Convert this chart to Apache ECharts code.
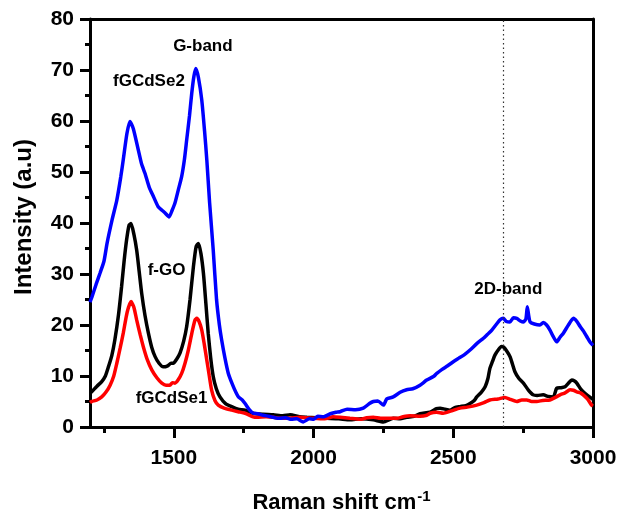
<!DOCTYPE html>
<html>
<head>
<meta charset="utf-8">
<script src="https://cdn.jsdelivr.net/npm/echarts@6/dist/echarts.min.js"></script>
<style>html,body{margin:0;padding:0;background:#fff;}#c{width:620px;height:510px;}</style>
</head>
<body>
<div id="c"></div>
<script>
var xMajorTicks = [1500, 2000, 2500, 3000];
var xMinorTicks = [1250, 1750, 2250, 2750];
var yTicks = [0, 10, 20, 30, 40, 50, 60, 70, 80];
var bandLine = [2679];

var fGCdSe2 = [[1200,24.5],[1207,25.5],[1222,28],[1236,30.2],[1250,32.5],[1261,36],[1279,40.6],[1296,44.5],[1310,49],[1319,52.4],[1332,57.5],[1343,59.9],[1355,58.5],[1373,54.3],[1385,51.5],[1397,49.7],[1412,47],[1427,45.2],[1444,43.2],[1460,42.4],[1468,42],[1483,41.2],[1494,42.5],[1504,43.9],[1516,46.5],[1528,49.1],[1538,52.5],[1546,56.3],[1556,61],[1564,65.4],[1572,68.8],[1579,70.3],[1588,68.5],[1600,64.1],[1610,58],[1618,52.4],[1628,44],[1641,34.7],[1653,24.9],[1663,20],[1671,17.1],[1683,13.5],[1695,10.5],[1710,8.3],[1722,6.8],[1731,5.9],[1745,5.3],[1755,4.6],[1770,3.4],[1784,2.7],[1800,2.6],[1820,2.3],[1840,2.1],[1856,1.9],[1880,1.7],[1900,1.8],[1920,1.5],[1940,1.6],[1963,1.0],[1985,1.6],[2000,1.5],[2015,2.1],[2035,2.0],[2060,2.6],[2080,2.9],[2095,3.0],[2120,3.5],[2150,3.4],[2178,3.7],[2200,4.6],[2214,5.0],[2230,5.1],[2250,4.3],[2262,5.5],[2285,5.9],[2310,6.8],[2333,7.3],[2355,7.5],[2381,8.2],[2405,9.2],[2429,9.9],[2441,10.5],[2460,11.3],[2480,12],[2500,12.8],[2520,13.5],[2540,14.2],[2560,15.1],[2585,16.4],[2608,17.4],[2623,18.2],[2638,19.0],[2655,20.2],[2667,21],[2679,21.3],[2690,20.7],[2703,20.6],[2715,21.4],[2727,21.3],[2740,20.8],[2751,20.6],[2760,21.2],[2765,23.6],[2770,21.8],[2775,20.6],[2790,20.2],[2810,20],[2822,20.5],[2834,20],[2846,19.0],[2858,17.7],[2870,16.7],[2882,17.6],[2894,18.4],[2912,20],[2930,21.3],[2942,20.7],[2954,19.7],[2966,18.8],[2978,17.7],[2990,16.6],[3000,16]];

var fGO = [[1200,6.6],[1206,6.9],[1225,8],[1242,8.9],[1255,10],[1266,11.8],[1278,14],[1289,17.1],[1302,22],[1313,27.5],[1322,32.5],[1331,36.7],[1340,39.6],[1347,39.9],[1357,37.8],[1367,34.7],[1376,30.5],[1385,26.2],[1397,21.8],[1409,18.4],[1421,15.6],[1433,13.8],[1447,12.5],[1462,11.8],[1478,12],[1490,12.5],[1498,12.5],[1510,13.3],[1522,14.5],[1535,16.8],[1546,19.7],[1558,25],[1570,31.4],[1580,35.4],[1588,36.0],[1597,34],[1606,30.1],[1615,24],[1623,18.4],[1632,13.5],[1641,9.9],[1652,7.5],[1665,5.9],[1685,4.6],[1707,4.0],[1730,3.5],[1755,3.3],[1784,2.7],[1820,2.5],[1856,2.4],[1890,2.2],[1916,2.4],[1950,2.0],[1976,1.9],[2010,1.8],[2047,1.7],[2090,1.6],[2130,1.4],[2170,1.6],[2214,1.4],[2250,1.0],[2285,1.7],[2310,1.6],[2333,1.9],[2360,2.1],[2381,2.6],[2417,2.9],[2440,3.6],[2453,3.7],[2470,3.5],[2488,3.3],[2505,3.8],[2524,4.0],[2545,4.2],[2560,4.6],[2575,5.2],[2584,5.9],[2600,6.8],[2614,7.9],[2624,9.5],[2631,11.5],[2640,12.8],[2649,14.1],[2662,15.2],[2672,15.8],[2679,15.7],[2690,15],[2703,13.8],[2712,12.3],[2721,10.8],[2735,9.5],[2751,8.6],[2768,7.3],[2786,6.3],[2800,6.2],[2822,6.3],[2840,6.0],[2858,5.9],[2870,7.6],[2885,7.7],[2900,7.9],[2912,8.6],[2924,9.2],[2934,9.0],[2942,8.6],[2954,7.6],[2965,6.9],[2980,6.2],[2995,5.6],[3000,5.4]];

var fGCdSe1 = [[1200,4.8],[1206,5.0],[1225,5.3],[1242,5.9],[1258,6.9],[1272,8.2],[1285,10],[1296,12.5],[1308,15.5],[1319,18.4],[1333,22.5],[1347,24.6],[1357,23.5],[1367,21],[1380,18],[1391,15.7],[1405,13.2],[1421,11.2],[1440,9.6],[1457,8.6],[1472,8.2],[1486,8.2],[1495,8.7],[1504,8.6],[1515,9.2],[1528,10.5],[1540,12.5],[1552,15.1],[1566,18.8],[1576,21],[1582,21.3],[1591,20.6],[1600,19.0],[1609,16.2],[1618,13.1],[1627,10],[1635,7.3],[1647,5.2],[1659,4.3],[1680,3.7],[1707,3.3],[1730,3.0],[1755,2.7],[1784,2.0],[1797,1.9],[1830,2.0],[1856,1.9],[1885,1.7],[1916,1.7],[1950,1.9],[1999,1.7],[2040,1.6],[2070,2.0],[2095,1.9],[2130,1.7],[2166,1.5],[2190,1.8],[2214,1.9],[2240,1.7],[2262,1.7],[2298,1.7],[2320,2.0],[2345,2.2],[2381,2.1],[2405,2.3],[2417,2.7],[2440,2.9],[2464,2.7],[2490,3.1],[2524,3.7],[2550,3.9],[2584,4.3],[2610,4.8],[2631,5.3],[2660,5.5],[2685,5.8],[2705,5.4],[2727,5.0],[2745,5.3],[2763,5.3],[2780,5.0],[2799,5.0],[2820,5.2],[2846,5.3],[2865,5.8],[2882,6.3],[2900,6.7],[2918,7.3],[2930,7.2],[2942,6.9],[2955,6.7],[2965,6.3],[2980,5.5],[2995,4.3],[3000,4.1]];

var annotations = [
  [1604, 74.7, 'G-band'],
  [1411, 67.7, 'fGCdSe2'],
  [1474, 30.8, 'f-GO'],
  [1492, 5.6, 'fGCdSe1'],
  [2697, 27.0, '2D-band']
];

var FONT = 'Liberation Sans, Arial, Helvetica, sans-serif';
var chart = echarts.init(document.getElementById('c'), null, {renderer: 'canvas'});

function lineSeries(name, data, color) {
  return {
    name: name, type: 'line', data: data, showSymbol: false, smooth: 0.2,
    lineStyle: {color: color, width: 3.5}, itemStyle: {color: color},
    xAxisIndex: 0, yAxisIndex: 0, z: 3, silent: true
  };
}

var option = {
  animation: false,
  backgroundColor: '#ffffff',
  grid: {left: 90, right: 27, top: 19, bottom: 83, containLabel: false, outerBoundsMode: 'none'},
  xAxis: [
    {
      type: 'value', min: 1200, max: 3000, position: 'bottom',
      name: 'Raman shift cm{sup|-1}', nameLocation: 'middle', nameGap: 62,
      nameTextStyle: {
        fontFamily: FONT, fontSize: 22, fontWeight: 'bold', color: '#000',
        rich: {sup: {fontFamily: FONT, fontSize: 15, fontWeight: 'bold', color: '#000', verticalAlign: 'top', padding: [0, 0, 12, 1]}}
      },
      axisLine: {show: true, lineStyle: {color: '#000', width: 3}},
      axisTick: {show: true, inside: false, length: 11, lineStyle: {color: '#000', width: 3}, customValues: xMajorTicks},
      axisLabel: {show: true, margin: 21, fontFamily: FONT, fontSize: 21, fontWeight: 'bold', color: '#000',
        customValues: xMajorTicks, formatter: function (v) { return String(v); }},
      splitLine: {show: false}
    },
    {
      type: 'value', min: 1200, max: 3000, position: 'bottom', gridIndex: 0,
      axisLine: {show: false},
      axisTick: {show: true, length: 6, lineStyle: {color: '#000', width: 3}, customValues: xMinorTicks},
      axisLabel: {show: false, customValues: xMinorTicks},
      splitLine: {show: false}
    },
    {
      type: 'value', min: 1200, max: 3000, position: 'top', gridIndex: 0,
      axisLine: {show: true, lineStyle: {color: '#000', width: 3}},
      axisTick: {show: false}, axisLabel: {show: false}, splitLine: {show: false}
    }
  ],
  yAxis: [
    {
      type: 'value', min: 0, max: 80, interval: 10, position: 'left',
      name: 'Intensity (a.u)', nameLocation: 'middle', nameGap: 54, nameRotate: 90,
      nameTextStyle: {fontFamily: FONT, fontSize: 24, fontWeight: 'bold', color: '#000', padding: [0, 0, 0, 12]},
      axisLine: {show: true, lineStyle: {color: '#000', width: 3}},
      axisTick: {show: true, length: 10, lineStyle: {color: '#000', width: 3}},
      minorTick: {show: true, splitNumber: 2, length: 5, lineStyle: {color: '#000', width: 3}},
      axisLabel: {
        show: true, margin: 16, fontFamily: FONT, fontSize: 21, fontWeight: 'bold', color: '#000',
        formatter: function (v) { return yTicks.indexOf(v) >= 0 ? String(v) : ''; }
      },
      splitLine: {show: false}, minorSplitLine: {show: false}
    },
    {
      type: 'value', min: 0, max: 80, position: 'right', gridIndex: 0,
      axisLine: {show: true, lineStyle: {color: '#000', width: 3}},
      axisTick: {show: false}, axisLabel: {show: false}, splitLine: {show: false}
    }
  ],
  series: [
    Object.assign(lineSeries('f-GO', fGO, '#000000'), {
      markLine: {
        silent: true, symbol: ['none', 'none'], label: {show: false},
        lineStyle: {color: '#333', width: 1.2, type: [1.5, 3]},
        data: bandLine.map(function (v) { return {xAxis: v}; })
      }
    }),
    lineSeries('fGCdSe1', fGCdSe1, '#ff0000'),
    lineSeries('fGCdSe2', fGCdSe2, '#0000ff'),
    {
      type: 'scatter', symbolSize: 0, silent: true, z: 5,
      itemStyle: {color: 'transparent'},
      data: annotations.map(function (a) { return {value: [a[0], a[1]], name: a[2]}; }),
      label: {
        show: true, position: 'inside', formatter: function (p) { return p.name; },
        fontFamily: FONT, fontSize: 17, fontWeight: 'bold', color: '#000',
        textBorderWidth: 0, textBorderColor: 'transparent', opacity: 1
      },
      emphasis: {disabled: true}
    }
  ]
};
chart.setOption(option);
</script>
</body>
</html>
